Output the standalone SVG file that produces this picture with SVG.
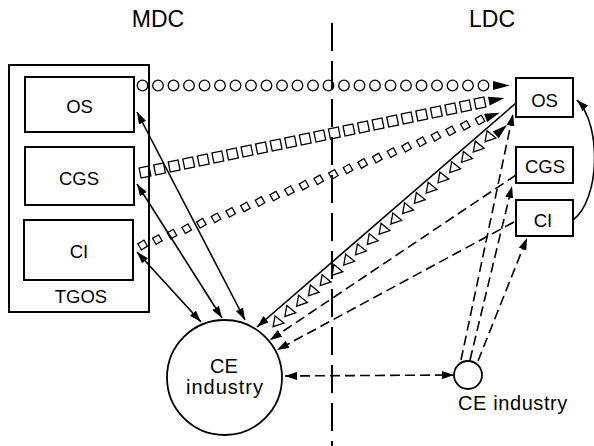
<svg xmlns="http://www.w3.org/2000/svg" xmlns:xlink="http://www.w3.org/1999/xlink" width="594" height="446" viewBox="0 0 594 446">
<style>
text{font-family:"Liberation Sans",Arial,Helvetica,sans-serif;fill:#000;text-anchor:middle}
.big{font-size:23px}
.lbl{font-size:18.5px}
.ce{font-size:20px}
.box{fill:#fff;stroke:#000;stroke-width:2}
.sym{fill:none;stroke:#000;stroke-width:1.3}
.ln{fill:none;stroke:#000;stroke-width:1.6}
.dash{fill:none;stroke:#000;stroke-width:1.6;stroke-dasharray:10 5}
.div{fill:none;stroke:#000;stroke-width:2;stroke-dasharray:28 10}
.ah{fill:#000}
</style>
<defs>
<marker id="a" viewBox="0 0 12 8" refX="12" refY="4" markerWidth="12" markerHeight="8" markerUnits="userSpaceOnUse" orient="auto-start-reverse"><path d="M0,0 L12,4 L0,8 z" fill="#000"/></marker>
<circle id="co" r="5.3" class="sym"/>
<rect id="sq" x="-5" y="-5" width="10" height="10" transform="rotate(-11.6)" class="sym"/>
<rect id="dm" x="-3.5" y="-3.5" width="7" height="7" transform="rotate(-30)" class="sym"/>
<polygon id="tr" points="-4,-5.5 6,0 -4,5.5" transform="rotate(10)" class="sym"/>
</defs>
<rect width="594" height="446" fill="#fff"/>

<text class="big" x="158" y="27">MDC</text>
<text class="big" x="492" y="27">LDC</text>
<path class="div" d="M332,23 V446"/>

<g id="tgos">
<rect class="box" x="9" y="65" width="140" height="247" fill="none"/>
<text class="lbl" x="81" y="303">TGOS</text>
</g>
<g id="mdc-os">
<rect class="box" x="25" y="77" width="109" height="55"/>
<text class="lbl" x="79.5" y="113">OS</text>
</g>
<g id="mdc-cgs">
<rect class="box" x="25" y="147" width="109" height="58"/>
<text class="lbl" x="79" y="185">CGS</text>
</g>
<g id="mdc-ci">
<rect class="box" x="24" y="220" width="109" height="60"/>
<text class="lbl" x="79" y="258">CI</text>
</g>
<g id="ldc-os">
<rect class="box" x="516" y="78" width="57" height="39"/>
<text class="lbl" x="544.5" y="106.5">OS</text>
</g>
<g id="ldc-cgs">
<rect class="box" x="516" y="147" width="57" height="36"/>
<text class="lbl" x="545" y="172.5">CGS</text>
</g>
<g id="ldc-ci">
<rect class="box" x="516" y="200" width="57" height="36"/>
<text class="lbl" x="543" y="226.5">CI</text>
</g>
<g id="mdc-ce">
<circle cx="224.5" cy="377.5" r="57.5" fill="none" stroke="#000" stroke-width="1.8"/>
<text class="ce" x="224" y="372.5">CE</text>
<text class="ce" x="225" y="394" letter-spacing="1">industry</text>
</g>
<g id="ldc-ce">
<circle cx="468" cy="375" r="14" fill="none" stroke="#000" stroke-width="1.8"/>
<text class="ce" x="513" y="409.5" letter-spacing="0.6">CE industry</text>
</g>

<g id="connectors">
<!-- circle row MDC OS -> LDC OS -->
<g>
<use href="#co" x="142.5" y="85.5"/><use href="#co" x="158" y="85.5"/><use href="#co" x="173.5" y="85.5"/><use href="#co" x="189" y="85.5"/><use href="#co" x="204.5" y="85.5"/><use href="#co" x="220" y="85.5"/><use href="#co" x="235.5" y="85.5"/><use href="#co" x="251" y="85.5"/><use href="#co" x="266.5" y="85.5"/><use href="#co" x="282" y="85.5"/><use href="#co" x="297.5" y="85.5"/><use href="#co" x="313" y="85.5"/><use href="#co" x="328.5" y="85.5"/><use href="#co" x="344" y="85.5"/><use href="#co" x="359.5" y="85.5"/><use href="#co" x="375" y="85.5"/><use href="#co" x="390.5" y="85.5"/><use href="#co" x="406" y="85.5"/><use href="#co" x="421.5" y="85.5"/><use href="#co" x="437" y="85.5"/><use href="#co" x="452.5" y="85.5"/><use href="#co" x="468" y="85.5"/><use href="#co" x="483.5" y="85.5"/>
<polygon class="ah" points="493,81 510,85.5 493,90"/>
</g>
<!-- square row MDC CGS -> LDC OS -->
<g>
<use href="#sq" x="145" y="172"/><use href="#sq" x="159.57" y="169"/><use href="#sq" x="174.13" y="166"/><use href="#sq" x="188.7" y="163"/><use href="#sq" x="203.26" y="160"/><use href="#sq" x="217.83" y="157"/><use href="#sq" x="232.39" y="154"/><use href="#sq" x="246.96" y="151"/><use href="#sq" x="261.52" y="148"/><use href="#sq" x="276.09" y="145"/><use href="#sq" x="290.65" y="142"/><use href="#sq" x="305.22" y="139"/><use href="#sq" x="319.78" y="136"/><use href="#sq" x="334.35" y="133"/><use href="#sq" x="348.91" y="130"/><use href="#sq" x="363.48" y="127"/><use href="#sq" x="378.04" y="124"/><use href="#sq" x="392.61" y="121"/><use href="#sq" x="407.17" y="118"/><use href="#sq" x="421.74" y="115"/><use href="#sq" x="436.3" y="112"/><use href="#sq" x="450.87" y="109"/><use href="#sq" x="465.43" y="106"/><use href="#sq" x="480" y="103"/>
<polygon class="ah" points="487.9,96.8 504.5,98 489.7,105.6"/>
</g>
<!-- diamond row MDC CI -> LDC OS -->
<g>
<use href="#dm" x="142.7" y="245"/><use href="#dm" x="157.37" y="239.57"/><use href="#dm" x="172.03" y="234.13"/><use href="#dm" x="186.7" y="228.7"/><use href="#dm" x="201.36" y="223.26"/><use href="#dm" x="216.03" y="217.83"/><use href="#dm" x="230.69" y="212.39"/><use href="#dm" x="245.36" y="206.96"/><use href="#dm" x="260.02" y="201.52"/><use href="#dm" x="274.69" y="196.09"/><use href="#dm" x="289.35" y="190.65"/><use href="#dm" x="304.02" y="185.22"/><use href="#dm" x="318.68" y="179.78"/><use href="#dm" x="333.35" y="174.35"/><use href="#dm" x="348.01" y="168.91"/><use href="#dm" x="362.68" y="163.48"/><use href="#dm" x="377.34" y="158.04"/><use href="#dm" x="392.01" y="152.61"/><use href="#dm" x="406.67" y="147.17"/><use href="#dm" x="421.34" y="141.74"/><use href="#dm" x="436" y="136.3"/><use href="#dm" x="450.67" y="130.87"/><use href="#dm" x="465.33" y="125.43"/><use href="#dm" x="480" y="120"/>
<polygon class="ah" points="484,113.7 499.7,112.7 487.2,122.1"/>
</g>
<!-- triangle row MDC CE -> LDC OS -->
<g>
<use href="#tr" x="278" y="322"/><use href="#tr" x="289.78" y="311.72"/><use href="#tr" x="301.56" y="301.44"/><use href="#tr" x="313.33" y="291.16"/><use href="#tr" x="325.11" y="280.88"/><use href="#tr" x="336.89" y="270.6"/><use href="#tr" x="348.67" y="260.32"/><use href="#tr" x="360.44" y="250.04"/><use href="#tr" x="372.22" y="239.76"/><use href="#tr" x="384" y="229.48"/><use href="#tr" x="395.78" y="219.2"/><use href="#tr" x="407.56" y="208.92"/><use href="#tr" x="419.33" y="198.64"/><use href="#tr" x="431.11" y="188.36"/><use href="#tr" x="442.89" y="178.08"/><use href="#tr" x="454.67" y="167.8"/><use href="#tr" x="466.44" y="157.52"/><use href="#tr" x="478.22" y="147.24"/><use href="#tr" x="490" y="136.96"/>
<polygon class="ah" points="492.7,131.5 507,125 498.7,138.3"/>
</g>
<!-- MDC boxes <-> MDC CE -->
<path class="ln" d="M137,112 L245,320" marker-start="url(#a)" marker-end="url(#a)"/>
<path class="ln" d="M137,184 L222,318" marker-start="url(#a)" marker-end="url(#a)"/>
<path class="ln" d="M137,252 L201,322" marker-start="url(#a)" marker-end="url(#a)"/>
<!-- LDC OS -> MDC CE -->
<path class="ln" d="M516,103 L257,327" marker-end="url(#a)"/>
<!-- LDC CGS, CI -> MDC CE -->
<path class="dash" d="M516,175 L270,340" marker-end="url(#a)"/>
<path class="dash" d="M514,222 L277,350" marker-end="url(#a)"/>
<!-- MDC CE <-> LDC CE -->
<path class="dash" d="M285,376 L454,375" marker-start="url(#a)" marker-end="url(#a)"/>
<!-- LDC CE -> LDC boxes -->
<path class="dash" d="M461,360 L513,114" marker-end="url(#a)"/>
<path class="dash" d="M470,360 L512,186" marker-end="url(#a)"/>
<path class="dash" d="M478,361 L527,238" marker-end="url(#a)"/>
<!-- LDC CI -> LDC OS curve -->
<path class="ln" d="M573,220 C600,200 602,125 577,100" marker-end="url(#a)"/>
</g>
</svg>
